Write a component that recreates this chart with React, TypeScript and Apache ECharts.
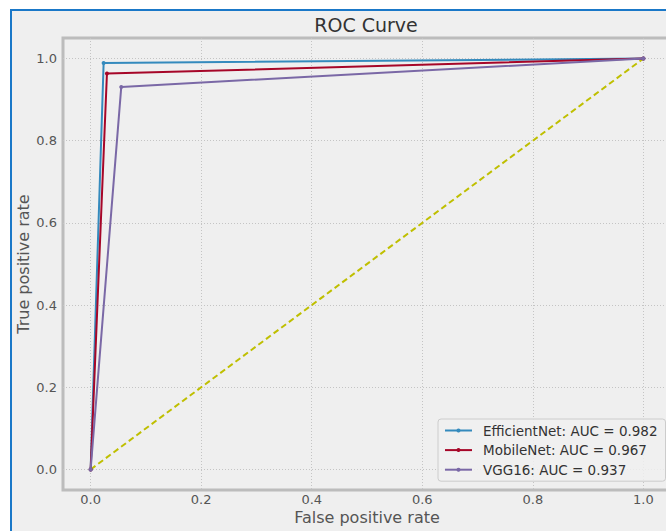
import React, { useEffect, useRef } from "react";
import * as echarts from "echarts";

const modelNames = ["EfficientNet", "MobileNet", "VGG16"];
const aucValues = ["0.982", "0.967", "0.937"];
const modelColors = ["#348ABD", "#A60628", "#7A68A6"];
const fprEfficientNet = [0, 0.0235, 1];
const tprEfficientNet = [0, 0.989, 1];
const fprMobileNet = [0, 0.0295, 1];
const tprMobileNet = [0, 0.9635, 1];
const fprVGG16 = [0, 0.0554, 1];
const tprVGG16 = [0, 0.931, 1];
const diagonalX = [0, 1];
const diagonalY = [0, 1];
const tickValues = [0, 0.2, 0.4, 0.6, 0.8, 1.0];

const FONT = "DejaVu Sans";

function pairs(xs: number[], ys: number[]) {
  return xs.map((x, i) => [x, ys[i]]);
}

export default function App() {
  const ref = useRef<HTMLDivElement>(null);
  useEffect(() => {
    if (!ref.current) return;
    const chart = echarts.init(ref.current, null, { renderer: "svg" });
    const curves = [
      pairs(fprEfficientNet, tprEfficientNet),
      pairs(fprMobileNet, tprMobileNet),
      pairs(fprVGG16, tprVGG16),
    ];
    const axisCommon = {
      type: "value" as const,
      min: -0.05,
      max: 1.05,
      axisLine: { show: false },
      axisTick: { show: false, customValues: tickValues },
      axisLabel: {
        customValues: tickValues,
        formatter: (v: number) => v.toFixed(1),
        color: "#555555",
        fontSize: 13,
        lineHeight: 13,
        fontFamily: FONT,
      },
      splitLine: {
        show: true,
        lineStyle: { color: "#c4c4c4", width: 1, type: [1, 2] },
      },
      nameLocation: "middle" as const,
      nameMoveOverlap: false,
      nameTextStyle: {
        color: "#555555",
        fontSize: 16,
        lineHeight: 16,
        fontFamily: FONT,
      },
    };
    chart.setOption({
      animation: false,
      backgroundColor: "#ffffff",
      graphic: [
        {
          type: "rect",
          z: -10,
          silent: true,
          shape: { x: 11, y: 10, width: 700, height: 600 },
          style: { fill: "#efefef", stroke: "#1a78c8", lineWidth: 2 },
        },
      ],
      title: {
        text: "ROC Curve",
        left: 366,
        top: 15,
        textAlign: "center",
        padding: 0,
        textStyle: {
          color: "#333333",
          fontSize: 19,
          fontWeight: "normal",
          fontFamily: FONT,
          lineHeight: 20,
        },
      },
      grid: {
        left: 63,
        top: 38,
        width: 608,
        height: 452,
        outerBoundsMode: "none",
        containLabel: false,
        show: true,
        backgroundColor: "#efefef",
        borderColor: "#bcbcbc",
        borderWidth: 3,
      },
      xAxis: {
        ...axisCommon,
        name: "False positive rate",
        nameGap: 19,
        axisLabel: { ...axisCommon.axisLabel, margin: 3 },
      },
      yAxis: {
        ...axisCommon,
        name: "True positive rate",
        nameGap: 31.5,
        axisLabel: { ...axisCommon.axisLabel, margin: 6 },
      },
      legend: {
        orient: "vertical",
        left: 438,
        top: 419,
        padding: [4, 8, 4, 6],
        itemWidth: 27,
        itemHeight: 5,
        itemGap: 4.6,
        backgroundColor: "rgba(240,240,240,0.85)",
        borderColor: "#cccccc",
        borderWidth: 1,
        borderRadius: 3,
        textStyle: {
          color: "#333333",
          fontSize: 13.5,
          fontFamily: FONT,
          lineHeight: 15,
          padding: [0, 0, 0, 6],
        },
        data: modelNames.map((n, i) => `${n}: AUC = ${aucValues[i]}`),
      },
      series: [
        {
          type: "line",
          name: "diagonal",
          data: pairs(diagonalX, diagonalY),
          showSymbol: false,
          symbol: "none",
          lineStyle: { color: "#bfbf00", width: 2, type: [6, 3.5] },
          z: 1,
        },
        ...curves.map((d, i) => ({
          type: "line",
          name: `${modelNames[i]}: AUC = ${aucValues[i]}`,
          data: d,
          symbol: "circle",
          symbolSize: 4,
          itemStyle: { color: modelColors[i] },
          lineStyle: { color: modelColors[i], width: 2 },
          z: 2 + i,
        })),
      ],
    });
    return () => chart.dispose();
  }, []);
  return (
    <div
      ref={ref}
      style={{ position: "absolute", left: 0, top: 0, width: 666, height: 531 }}
    />
  );
}
